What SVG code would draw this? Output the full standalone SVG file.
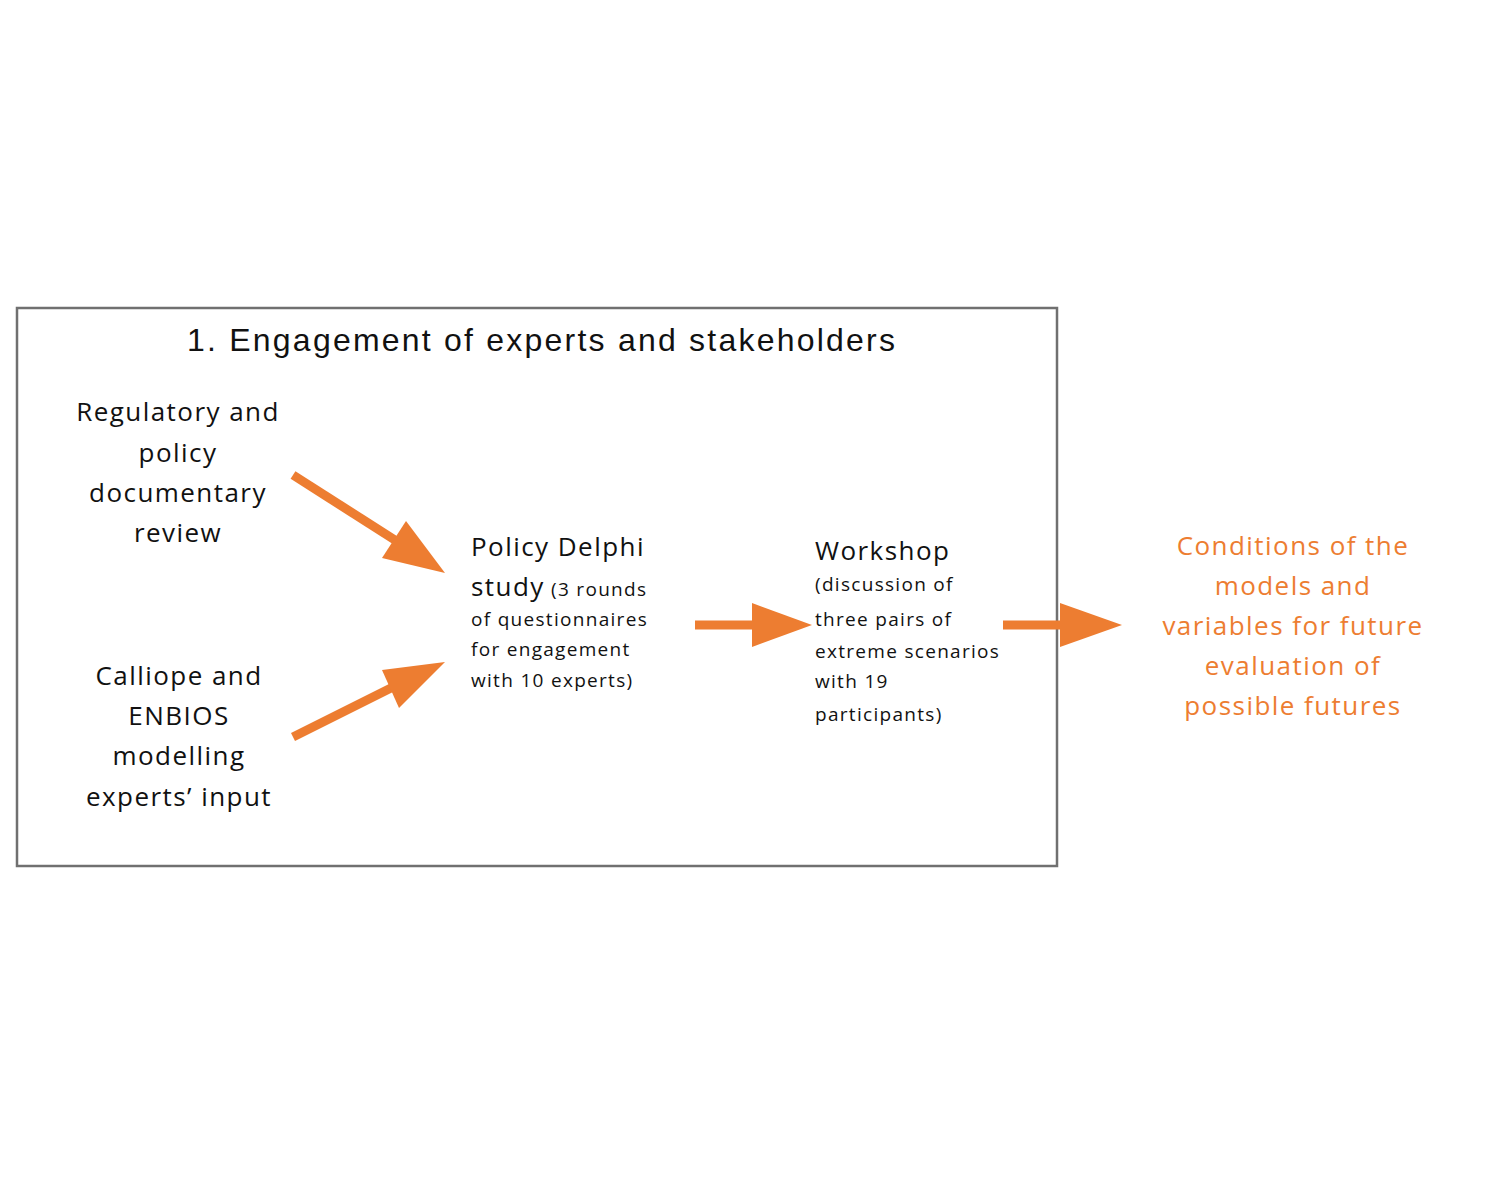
<svg xmlns="http://www.w3.org/2000/svg" width="1500" height="1200" viewBox="0 0 1500 1200">
<style>
.t{font-family:"Open Sans","DejaVu Sans",sans-serif;fill:#111;}
.big{font-size:26px;letter-spacing:1.45px;}
.sm{font-size:19px;letter-spacing:1.3px;}
.c{text-anchor:middle;}
.or{fill:#ED7D31;}
.arr{fill:#ED7D31;stroke:none;}
.sh{stroke:#ED7D31;stroke-width:9;fill:none;}
</style>
<rect width="1500" height="1200" fill="#fff"/>
<g id="frame">
<rect x="17" y="308" width="1040" height="558" fill="none" stroke="#707070" stroke-width="2.5"/>
<text x="187" y="351" font-family="Liberation Sans, Arial, sans-serif" font-size="32" fill="#111" textLength="708" lengthAdjust="spacing">1. Engagement of experts and stakeholders</text>
</g>
<g id="node-regulatory">
<text class="t big c" x="178" y="421">Regulatory and</text>
<text class="t big c" x="178" y="462">policy</text>
<text class="t big c" x="178" y="502">documentary</text>
<text class="t big c" x="178" y="542">review</text>
</g>
<g id="node-calliope">
<text class="t big c" x="179" y="685">Calliope and</text>
<text class="t big c" x="179" y="725">ENBIOS</text>
<text class="t big c" x="179" y="765">modelling</text>
<text class="t big c" x="179" y="806">experts’ input</text>
</g>
<g id="node-delphi">
<text class="t big" x="471" y="556">Policy Delphi</text>
<text class="t" x="471" y="596"><tspan class="big">study</tspan><tspan class="sm"> (3 rounds</tspan></text>
<text class="t sm" x="471" y="626">of questionnaires</text>
<text class="t sm" x="471" y="656">for engagement</text>
<text class="t sm" x="471" y="687">with 10 experts)</text>
</g>
<g id="node-workshop">
<text class="t big" x="815" y="560">Workshop</text>
<text class="t sm" x="815" y="591">(discussion of</text>
<text class="t sm" x="815" y="626">three pairs of</text>
<text class="t sm" x="815" y="658">extreme scenarios</text>
<text class="t sm" x="815" y="688">with 19</text>
<text class="t sm" x="815" y="721">participants)</text>
</g>
<g id="node-conditions">
<text class="t big c or" x="1293" y="555">Conditions of the</text>
<text class="t big c or" x="1293" y="595">models and</text>
<text class="t big c or" x="1293" y="635">variables for future</text>
<text class="t big c or" x="1293" y="675">evaluation of</text>
<text class="t big c or" x="1293" y="715">possible futures</text>
</g>
<g id="connectors">
<line class="sh" x1="293" y1="475" x2="398" y2="542"/>
<polygon class="arr" points="445,573 406,521 382,558"/>
<line class="sh" x1="293" y1="737" x2="395" y2="686"/>
<polygon class="arr" points="445,662 382,670 399,708"/>
<line class="sh" x1="695" y1="625" x2="754" y2="625"/>
<polygon class="arr" points="812,625 752,603 752,647"/>
<line class="sh" x1="1003" y1="625" x2="1062" y2="625"/>
<polygon class="arr" points="1122,625 1060,603 1060,647"/>
</g>
</svg>
